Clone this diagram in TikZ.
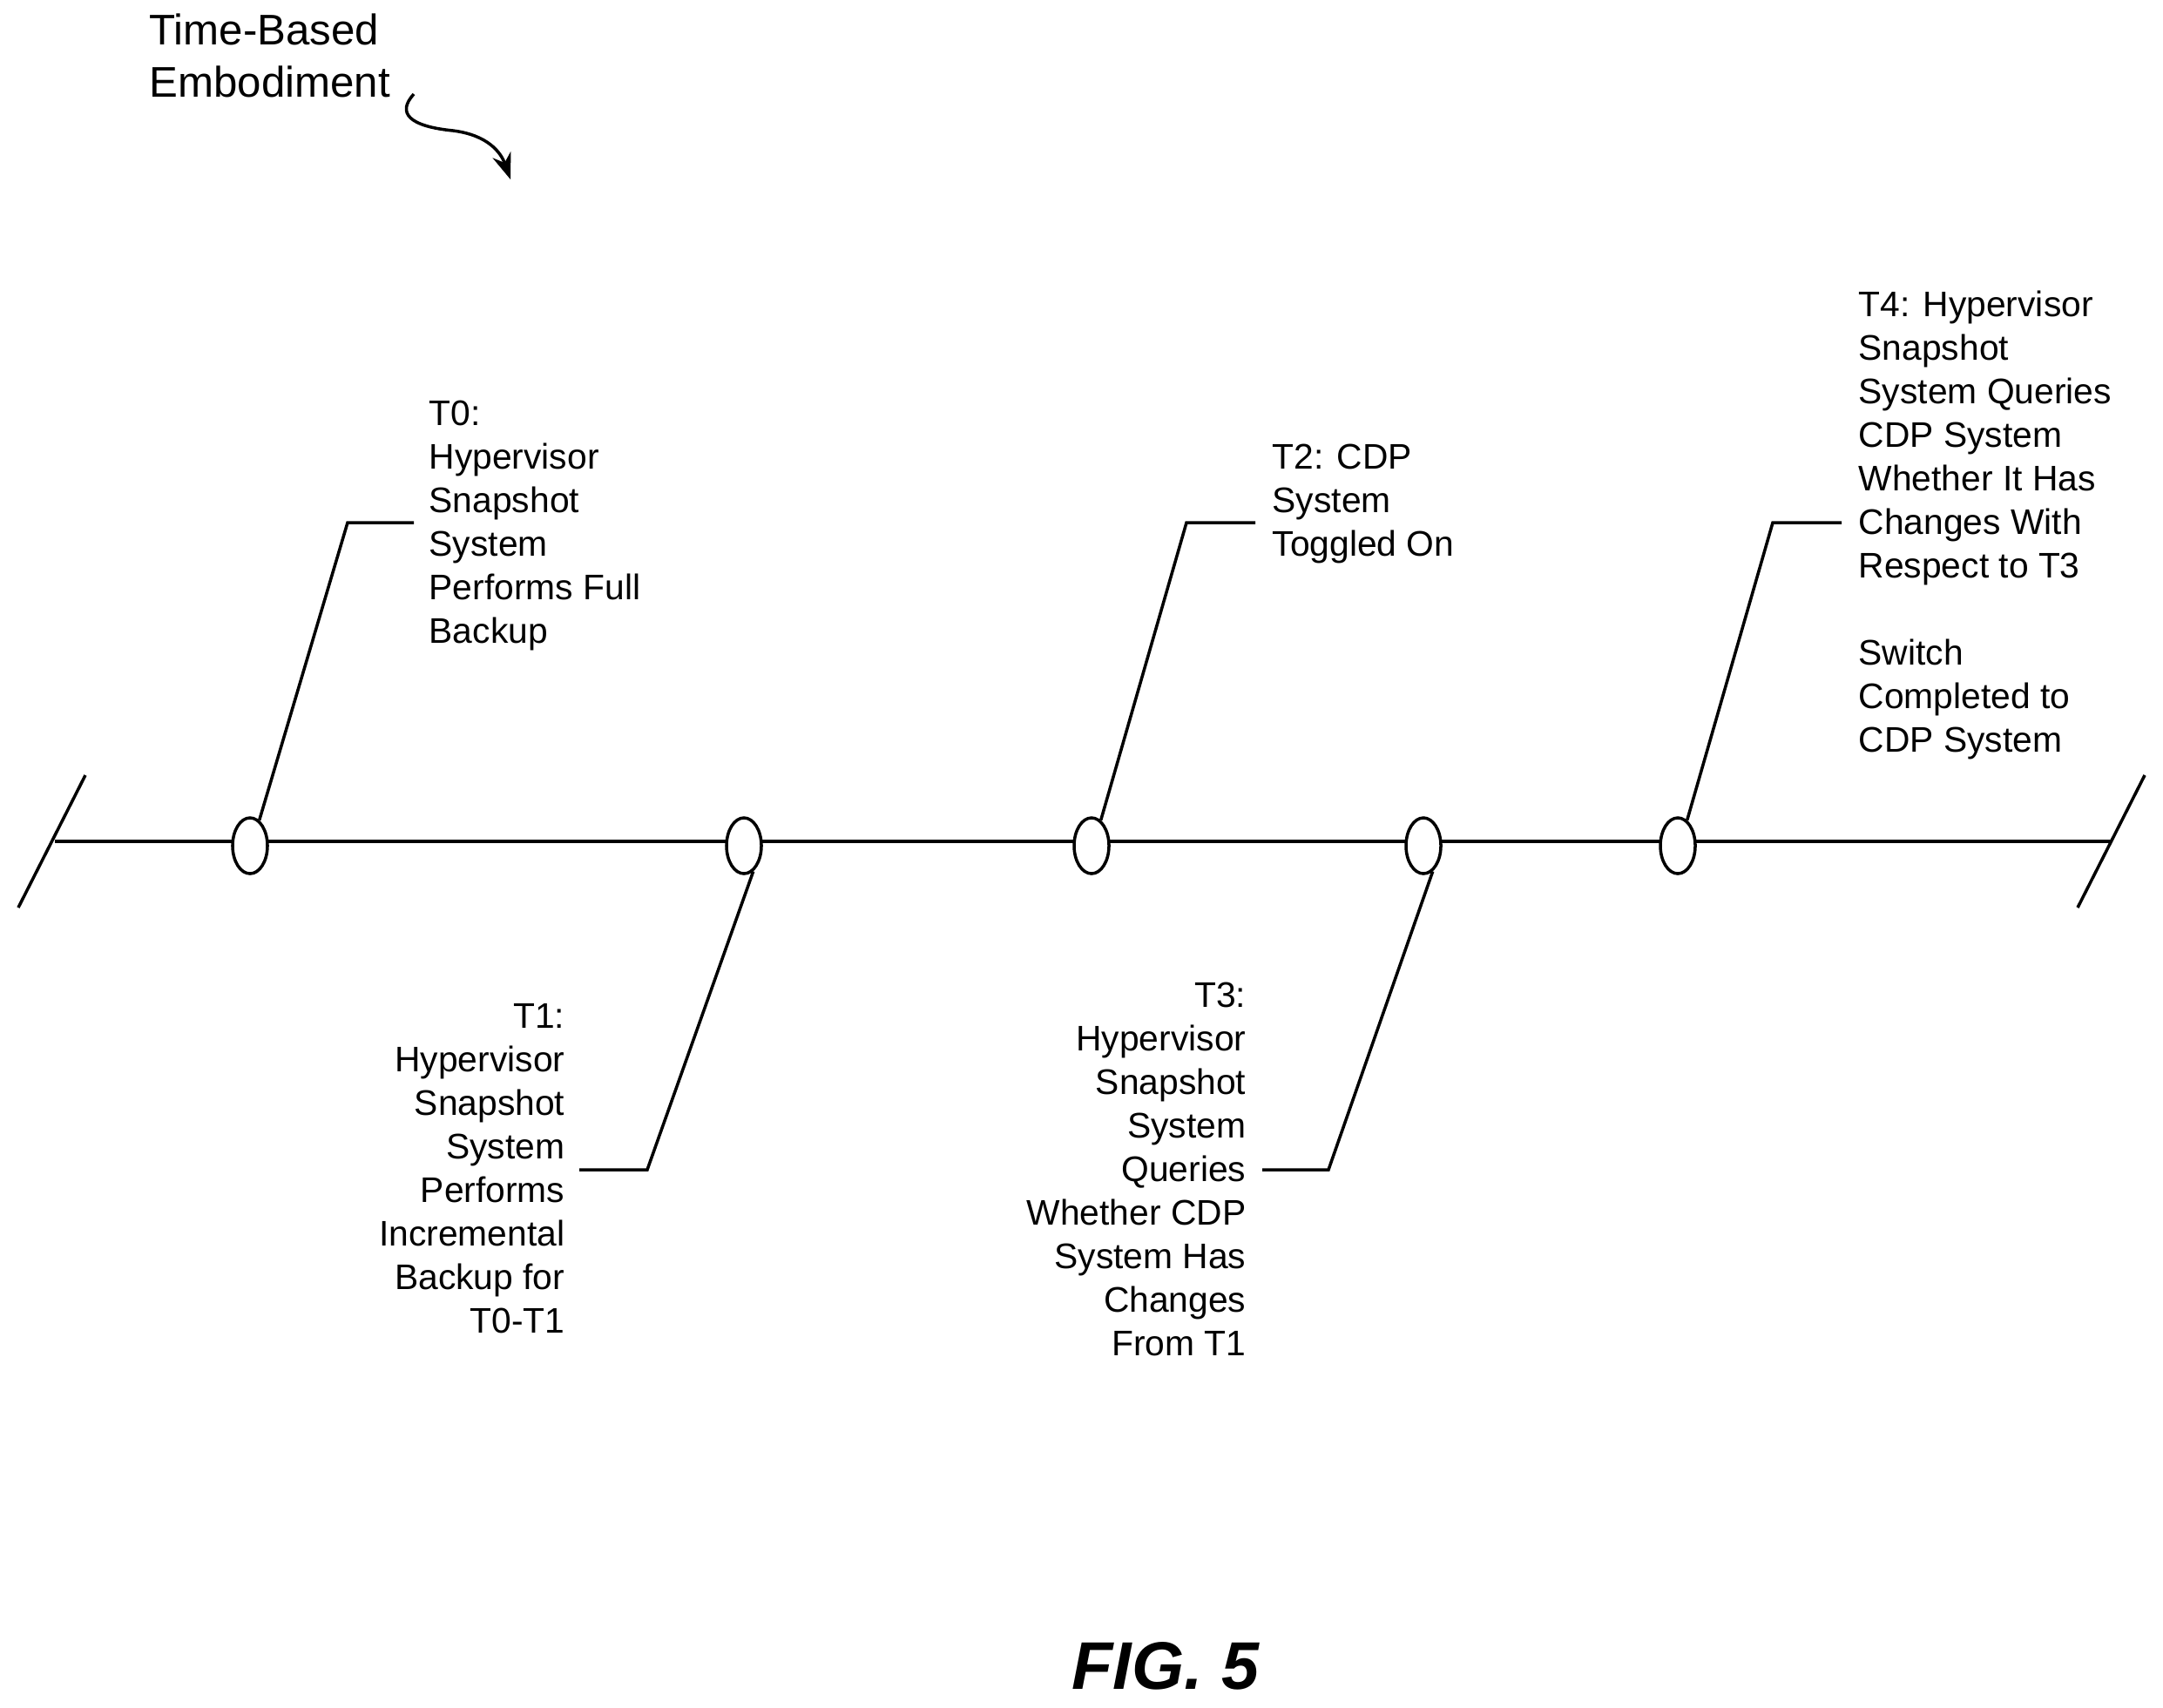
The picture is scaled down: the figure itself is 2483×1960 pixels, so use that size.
\documentclass[tikz,border=0pt]{standalone}
\usepackage{fontspec}
\setmainfont{Liberation Sans}
\usetikzlibrary{shapes.geometric,arrows.meta}
\begin{document}
\begin{tikzpicture}[x=0.01cm,y=-0.01cm,
  ln/.style={line width=1pt,black},
  ev/.style={ellipse,draw,line width=1pt,fill=white,minimum width=0.4cm,minimum height=0.64cm,inner sep=0pt},
  lbl/.style={inner sep=0pt,font=\fontsize{11.6}{14.2}\selectfont},
  lblL/.style={lbl,align=left,anchor=base west},
  lblR/.style={lbl,align=right,anchor=base east}]
\useasboundingbox (0,0) rectangle (2483,1960);
% timeline
\coordinate (L) at (63,966);
\coordinate (R) at (2423,966);
\coordinate (ls1) at (21,1042); \coordinate (ls2) at (98,890);
\coordinate (rs1) at (2385,1042); \coordinate (rs2) at (2462,890);
\draw[ln] (L) -- (R);
\draw[ln] (ls1) -- (ls2);
\draw[ln] (rs1) -- (rs2);
\node[ev] (e0) at (287,971) {};
\node[ev] (e1) at (854,971) {};
\node[ev] (e2) at (1253,971) {};
\node[ev] (e3) at (1634,971) {};
\node[ev] (e4) at (1926,971) {};
% leaders
\coordinate (a0) at (399,600); \coordinate (b0) at (475,600);
\coordinate (a1) at (743,1343); \coordinate (b1) at (665,1343);
\coordinate (a2) at (1362,600); \coordinate (b2) at (1441,600);
\coordinate (a3) at (1525,1343); \coordinate (b3) at (1449,1343);
\coordinate (a4) at (2035,600); \coordinate (b4) at (2114,600);
\draw[ln] (e0.70) -- (a0) -- (b0);
\draw[ln] (e1.-70) -- (a1) -- (b1);
\draw[ln] (e2.70) -- (a2) -- (b2);
\draw[ln] (e3.-70) -- (a3) -- (b3);
\draw[ln] (e4.70) -- (a4) -- (b4);
% labels (anchor = baseline of last line)
\node[lblL] (t0) at (492,738) {T0:\\Hypervisor\\Snapshot\\System\\Performs Full\\Backup};
\node[lblR] (t1) at (649,1530) {T1:\\Hypervisor\\Snapshot\\System\\Performs\\Incremental\\Backup for\\T0-T1};
\node[lblL] (t2) at (1460,638) {T2: CDP\\System\\Toggled On};
\node[lblR] (t3) at (1431,1556) {T3:\\Hypervisor\\Snapshot\\System\\Queries\\Whether CDP\\System Has\\Changes\\From T1};
\node[lblL] (t4) at (2133,863) {T4: Hypervisor\\Snapshot\\System Queries\\CDP System\\Whether It Has\\Changes With\\Respect to T3\\[14.2pt]Switch\\Completed to\\CDP System};
% title
\node[inner sep=0pt,align=left,anchor=base west,font=\fontsize{14}{17}\selectfont] (title) at (171,111) {Time-Based\\Embodiment};
\coordinate (s0) at (475,108);
\coordinate (s1) at (586,206);
\draw[line width=1pt,-{Stealth[length=0.3cm,width=0.22cm]}] (s0) .. controls (455,130) and (470,145) .. (520,150) .. controls (560,155) and (575,175) .. (s1);
\node[inner sep=0pt,font=\fontsize{22}{26}\selectfont\bfseries\itshape] (fig) at (1338,1913) {FIG. 5};
\end{tikzpicture}
\end{document}
